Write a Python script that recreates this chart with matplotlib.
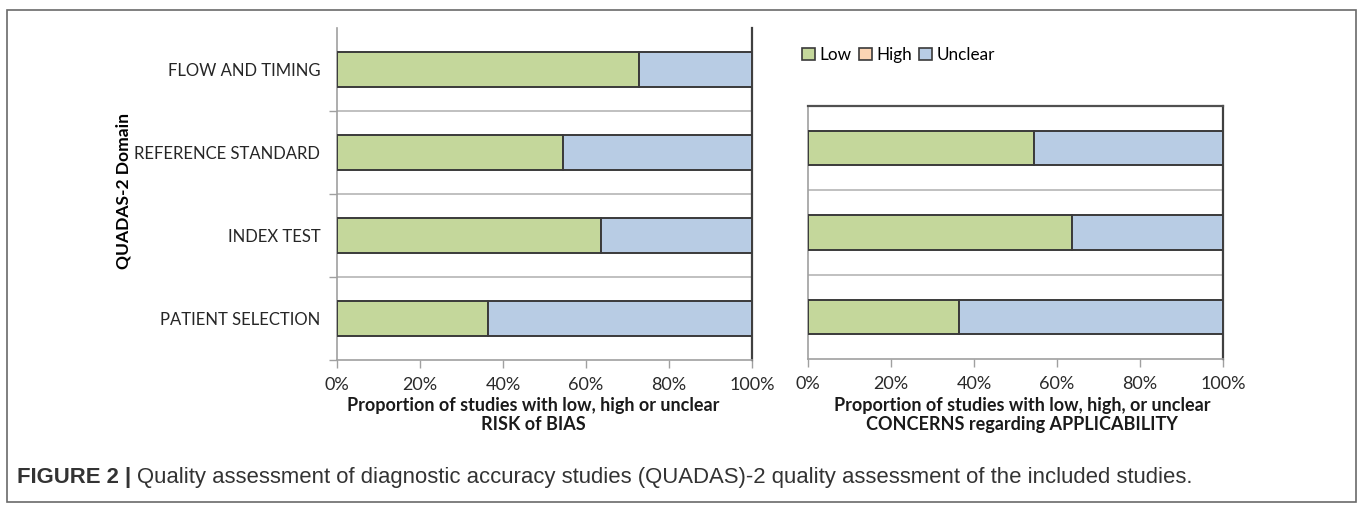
import matplotlib.pyplot as plt
from matplotlib.patches import Rectangle, Patch

plt.rcParams['font.family'] = ['Lato', 'DejaVu Sans']

# data (proportions, %)
domains_bias = ['PATIENT SELECTION', 'INDEX TEST', 'REFERENCE STANDARD', 'FLOW AND TIMING']
bias_low = [36.4, 63.6, 54.5, 72.7]
bias_high = [0, 0, 0, 0]
bias_unclear = [63.6, 36.4, 45.5, 27.3]

domains_appl = ['PATIENT SELECTION', 'INDEX TEST', 'REFERENCE STANDARD']
appl_low = [36.4, 63.6, 54.5]
appl_high = [0, 0, 0]
appl_unclear = [63.6, 36.4, 45.5]

series_names = ['Low', 'High', 'Unclear']
colors = ['#c4d79b', '#fcd5b4', '#b8cce4']
xticks = [0, 20, 40, 60, 80, 100]
xticklabels = ['0%', '20%', '40%', '60%', '80%', '100%']

W, H = 1363, 511
fig = plt.figure(figsize=(W / 100, H / 100), dpi=100)


def stacked(ax, names, low, high, unclear):
    y = range(len(names))
    left = [0] * len(names)
    for vals, c in zip([low, high, unclear], colors):
        ax.barh(y, vals, left=left, height=0.41, color=c, edgecolor='#3a3a3a', linewidth=1.4, zorder=3)
        left = [a + b for a, b in zip(left, vals)]
    ax.set_xlim(0, 100)
    ax.set_ylim(-0.5, len(names) - 0.5)
    for b in range(1, len(names)):
        ax.axhline(b - 0.5, color='#b5b5b5', lw=1.2, zorder=1)
    ax.set_xticks(xticks)
    ax.set_xticklabels(xticklabels, fontsize=13, color='#2a2a2a')
    ax.tick_params(axis='x', length=6, width=1, color='#a0a0a0', pad=6)
    ax.spines['left'].set_color('#a0a0a0')
    ax.spines['bottom'].set_color('#a0a0a0')
    ax.spines['right'].set_color('#404040')
    ax.spines['left'].set_linewidth(1.2)
    ax.spines['bottom'].set_linewidth(1.2)
    ax.spines['right'].set_linewidth(1.6)


# left panel: risk of bias
ax1 = fig.add_axes([337 / W, 1 - 360 / H, 415 / W, 332 / H])
stacked(ax1, domains_bias, bias_low, bias_high, bias_unclear)
ax1.spines['top'].set_visible(False)
ax1.set_yticks(range(len(domains_bias)))
ax1.set_yticklabels(domains_bias, fontsize=12, color='#262626')
ax1.tick_params(axis='y', length=0, pad=12)
ax1.set_yticks([i - 0.5 for i in range(len(domains_bias))], minor=True)
ax1.tick_params(axis='y', which='minor', length=6, width=1, color='#a0a0a0')
ax1.set_ylabel('QUADAS-2 Domain', fontsize=12.6, fontweight='bold')
ax1.yaxis.set_label_coords(-0.494, 0.51)
fig.text(533 / W, 1 - 415 / H, 'Proportion of studies with low, high or unclear\nRISK of BIAS',
         ha='center', va='center', fontsize=13, fontweight='bold', linespacing=1.15, color='#1a1a1a')

# right panel: applicability concerns
ax2 = fig.add_axes([808 / W, 1 - 359 / H, 415 / W, 253 / H])
stacked(ax2, domains_appl, appl_low, appl_high, appl_unclear)
ax2.spines['top'].set_color('#505050')
ax2.spines['top'].set_linewidth(1.6)
ax2.set_yticks([])
fig.text(1022 / W, 1 - 415 / H, 'Proportion of studies with low, high, or unclear\nCONCERNS regarding APPLICABILITY',
         ha='center', va='center', fontsize=13, fontweight='bold', linespacing=1.15, color='#1a1a1a')

# legend
handles = [Patch(facecolor=c, edgecolor='#3a3a3a', linewidth=1.2) for c in colors]
fig.legend(handles, series_names, loc='center left', bbox_to_anchor=(802 / W, 1 - 55 / H),
           ncol=3, frameon=False, fontsize=12.3, handlelength=0.75, handleheight=0.75,
           handletextpad=0.25, columnspacing=0.45, borderaxespad=0, borderpad=0)

# outer frame and caption
fig.patches.append(Rectangle((7 / W, 1 - 502 / H), 1349 / W, 492 / H, transform=fig.transFigure,
                             fill=False, edgecolor='#6a6a6a', linewidth=1.2))
cap = fig.text(17 / W, 1 - 478 / H, 'FIGURE 2 | ', fontsize=15.9, fontweight='bold',
               family=['Liberation Sans', 'DejaVu Sans'], color='#333333', va='center')
fig.canvas.draw()
bb = cap.get_window_extent()
fig.text(bb.x1 / W, 1 - 478 / H,
         'Quality assessment of diagnostic accuracy studies (QUADAS)-2 quality assessment of the included studies.',
         fontsize=15.9, family=['Liberation Sans', 'DejaVu Sans'], color='#333333', va='center')

fig.savefig('out.png', dpi=100)
